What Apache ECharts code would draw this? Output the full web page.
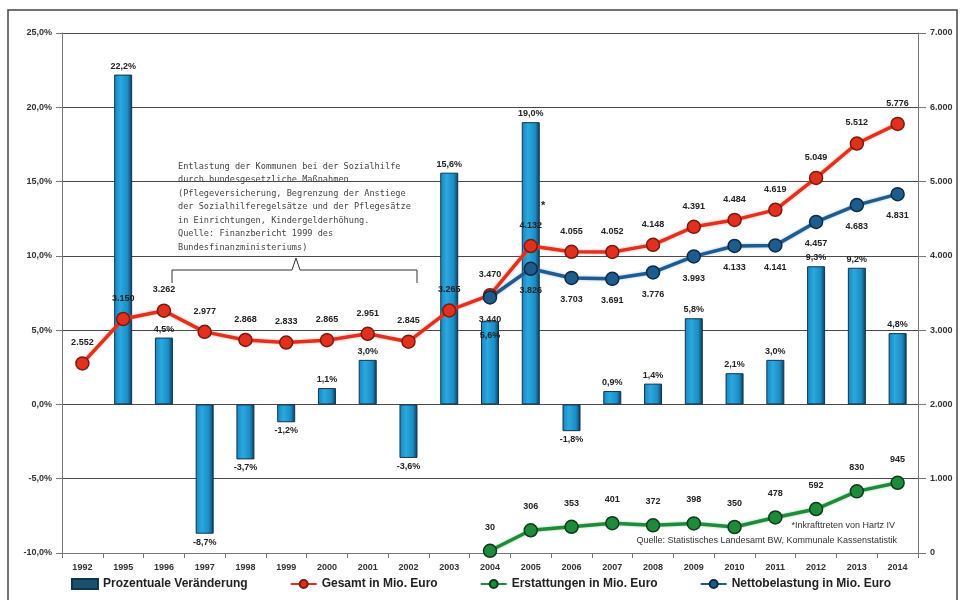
<!DOCTYPE html>
<html><head><meta charset="utf-8">
<script src="https://cdn.jsdelivr.net/npm/echarts@6/dist/echarts.min.js"></script>
<style>html,body{margin:0;padding:0;background:#fff}#c{width:962px;height:600px}</style>
</head><body><div id="c"></div>
<script>
const years = ['1992','1995','1996','1997','1998','1999','2000','2001','2002','2003','2004','2005','2006','2007','2008','2009','2010','2011','2012','2013','2014'];
const pctChange = [null,22.2,4.5,-8.7,-3.7,-1.2,1.1,3.0,-3.6,15.6,5.6,19.0,-1.8,0.9,1.4,5.8,2.1,3.0,9.3,9.2,4.8];
const gesamt = [2552,3150,3262,2977,2868,2833,2865,2951,2845,3265,3470,4132,4055,4052,4148,4391,4484,4619,5049,5512,5776];
const erstattungen = [null,null,null,null,null,null,null,null,null,null,30,306,353,401,372,398,350,478,592,830,945];
const netto = [null,null,null,null,null,null,null,null,null,null,3440,3826,3703,3691,3776,3993,4133,4141,4457,4683,4831];
const leftTicks = {min:-10,max:25,interval:5};
const rightTicks = {min:0,max:7000,interval:1000};

const fmtThousand = v => String(v).replace(/\B(?=(\d{3})+(?!\d))/g,'.');
const fmtPct = v => v.toFixed(1).replace('.',',') + '%';
const FONT = "'Liberation Sans', Arial, sans-serif";
const lblStyle = {fontSize:9,fontWeight:'bold',color:'#222',fontFamily:FONT};

const barData = pctChange.map((v,i)=>{
  if(v===null) return null;
  const o={value:v};
  if(years[i]==='2004') o.label={position:'insideTop',offset:[0,6]};
  if(v<0) o.label={position:'bottom'};
  return o;
});

const chart = echarts.init(document.getElementById('c'));
chart.setOption({
  animation:false,
  backgroundColor:'#fff',
  grid:{left:62,right:44,top:33,bottom:47},
  legend:{
    top:573,left:'center',itemGap:42,itemWidth:26,itemHeight:10,
    textStyle:{fontSize:12,fontWeight:'bold',color:'#222',fontFamily:"'Liberation Sans Narrow','Arial Narrow','Liberation Sans',sans-serif"},
    data:[
      {name:'Prozentuale Veränderung',icon:'rect',itemStyle:{color:'#1d4f6e'}},
      'Gesamt in Mio. Euro','Erstattungen in Mio. Euro','Nettobelastung in Mio. Euro'
    ]
  },
  xAxis:{
    type:'category',data:years,boundaryGap:true,
    axisLine:{onZero:false,lineStyle:{color:'#777'}},
    axisTick:{show:true,lineStyle:{color:'#777'}},
    axisLabel:{fontSize:9,fontWeight:'bold',color:'#333',margin:10,fontFamily:FONT}
  },
  yAxis:[
    {type:'value',min:leftTicks.min,max:leftTicks.max,interval:leftTicks.interval,
     axisLine:{show:true,lineStyle:{color:'#777'}},
     axisTick:{show:true,length:6,lineStyle:{color:'#777'}},
     axisLabel:{formatter:v=>fmtPct(v),fontSize:9,fontWeight:'bold',color:'#333',margin:10,fontFamily:FONT},
     splitLine:{show:true,lineStyle:{color:'#4a4a4a',width:1}}},
    {type:'value',min:rightTicks.min,max:rightTicks.max,interval:rightTicks.interval,position:'right',
     axisLine:{show:true,lineStyle:{color:'#777'}},
     axisTick:{show:true,length:8,lineStyle:{color:'#777'}},
     axisLabel:{formatter:v=>fmtThousand(v),fontSize:9,fontWeight:'bold',color:'#333',margin:12,fontFamily:FONT},
     splitLine:{show:false}}
  ],
  series:[
    {name:'Prozentuale Veränderung',type:'bar',yAxisIndex:0,barWidth:18,data:barData,z:2,
     itemStyle:{borderColor:'#0e3550',borderWidth:1,
       color:new echarts.graphic.LinearGradient(0,0,1,0,[
         {offset:0,color:'#1a82bb'},{offset:0.35,color:'#2aa9df'},{offset:0.75,color:'#1c8cc4'},{offset:1,color:'#0b3a58'}])},
     label:{show:true,position:'top',formatter:p=>fmtPct(p.value),...lblStyle,distance:4}},
    {name:'Gesamt in Mio. Euro',type:'line',yAxisIndex:1,data:gesamt,z:5,
     lineStyle:{color:'#e2301e',width:3.5,shadowColor:'rgba(240,120,100,0.6)',shadowBlur:3},
     itemStyle:{color:'#e2301e',borderColor:'#7a1a10',borderWidth:1.5},
     symbol:'circle',symbolSize:13,
     label:{show:true,position:'top',distance:9,formatter:p=>fmtThousand(p.value),...lblStyle}},
    {name:'Erstattungen in Mio. Euro',type:'line',yAxisIndex:1,data:erstattungen,z:5,
     lineStyle:{color:'#1f8a3c',width:3.5,shadowColor:'rgba(90,180,110,0.6)',shadowBlur:3},
     itemStyle:{color:'#1f8a3c',borderColor:'#0b3d1a',borderWidth:1.5},
     symbol:'circle',symbolSize:13,
     label:{show:true,position:'top',distance:12,formatter:p=>fmtThousand(p.value),...lblStyle}},
    {name:'Nettobelastung in Mio. Euro',type:'line',yAxisIndex:1,data:netto,z:5,
     lineStyle:{color:'#1f5c8e',width:3.5,shadowColor:'rgba(100,150,200,0.6)',shadowBlur:3},
     itemStyle:{color:'#1f5c8e',borderColor:'#0b2a45',borderWidth:1.5},
     symbol:'circle',symbolSize:13,
     label:{show:true,position:'bottom',distance:10,formatter:p=>fmtThousand(p.value),...lblStyle}}
  ],
  graphic:[
    {type:'rect',shape:{x:8,y:10,width:949,height:600},style:{fill:'none',stroke:'#444',lineWidth:1.5},silent:true,z:0},
    {type:'text',left:178,top:160,z:10,style:{
      text:'Entlastung der Kommunen bei der Sozialhilfe\ndurch bundesgesetzliche Maßnahmen\n(Pflegeversicherung, Begrenzung der Anstiege\nder Sozialhilferegelsätze und der Pflegesätze\nin Einrichtungen, Kindergelderhöhung.\nQuelle: Finanzbericht 1999 des\nBundesfinanzministeriums)',
      font:"8.6px 'DejaVu Sans Mono', monospace",fill:'#444',lineHeight:13.5}},
    {type:'polyline',z:10,shape:{points:[[172,283],[172,270],[292,270],[296,258],[300,270],[417,270],[417,283]]},style:{stroke:'#333',lineWidth:1,fill:'none'}},
    {type:'text',left:541,top:200,z:10,style:{text:'*',font:"bold 11px 'Liberation Sans', sans-serif",fill:'#222'}},
    {type:'text',right:67,top:521,z:10,style:{text:'*Inkrafttreten von Hartz IV',font:"9px 'Liberation Sans', sans-serif",fill:'#333',align:'right'}},
    {type:'text',right:65,top:536,z:10,style:{text:'Quelle: Statistisches Landesamt BW, Kommunale Kassenstatistik',font:"9px 'Liberation Sans', sans-serif",fill:'#333',align:'right'}}
  ]
});
</script></body></html>
